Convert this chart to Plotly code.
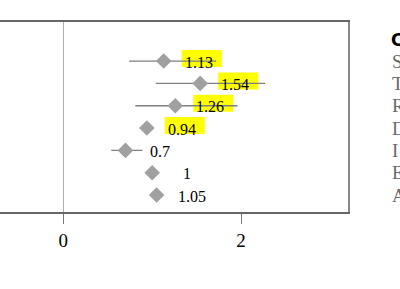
import plotly.graph_objects as go

labels = ["S", "T", "R", "D", "I", "E", "A"]
header = "C"
estimates = [1.13, 1.54, 1.26, 0.94, 0.70, 1.00, 1.05]
ci_low = [0.74, 1.04, 0.81, 0.94, 0.54, 1.00, 1.05]
ci_high = [1.72, 2.27, 1.96, 0.94, 0.89, 1.00, 1.05]
highlight = [True, True, True, True, False, False, False]
value_text = ["1.13", "1.54", "1.26", "0.94", "0.7", "1", "1.05"]

rows = list(range(1, len(labels) + 1))
err_plus = [h - e for h, e in zip(ci_high, estimates)]
err_minus = [e - l for e, l in zip(estimates, ci_low)]

fig = go.Figure()
fig.add_trace(go.Scatter(
    x=estimates, y=rows, mode="markers",
    marker=dict(symbol="diamond", size=12, color="#a0a0a0", line=dict(width=0)),
    error_x=dict(type="data", array=err_plus, arrayminus=err_minus,
                 color="#7f7f7f", thickness=1.3, width=0),
    showlegend=False, hoverinfo="skip",
))

shapes = []
annotations = []
for v, r, t, h in zip(estimates, rows, value_text, highlight):
    if h:
        w = 7.5 * len(t) + 8
        shapes.append(dict(type="rect", layer="below", xref="x", yref="y",
                           xsizemode="pixel", ysizemode="pixel",
                           xanchor=v, yanchor=r,
                           x0=35 - w / 2 + 2, x1=35 + w / 2 + 4,
                           y0=-6, y1=11,
                           fillcolor="#ffff00", line=dict(width=0)))
    annotations.append(dict(x=v, y=r, xref="x", yref="y", text=t, showarrow=False,
                            xshift=35, yshift=-1,
                            font=dict(family="Liberation Serif", size=16, color="#000")))

for lab, r in zip(labels, rows):
    annotations.append(dict(x=1, y=r, xref="paper", yref="y", text=lab, showarrow=False,
                            xanchor="left", xshift=42,
                            font=dict(family="Liberation Serif", size=19, color="#6a6a6a")))
annotations.append(dict(x=1, y=0, xref="paper", yref="y", text="<b>" + header + "</b>",
                        showarrow=False, xanchor="left", xshift=41, yshift=-1,
                        font=dict(family="DejaVu Sans", size=17, color="#000")))

fig.update_layout(
    width=400, height=289,
    margin=dict(l=0, r=52, t=22, b=77),
    paper_bgcolor="white", plot_bgcolor="white",
    shapes=shapes, annotations=annotations,
    xaxis=dict(range=[-0.711, 3.202], dtick=2, tick0=0, showgrid=False,
               zeroline=True, zerolinecolor="#b0b0b0", zerolinewidth=1,
               showline=True, linecolor="#666", linewidth=1.5, mirror=True,
               ticks="outside", ticklen=10, tickcolor="#777", tickwidth=1,
               tickfont=dict(family="Liberation Serif", size=19, color="#000")),
    yaxis=dict(range=[7.76, -0.75], side="right", showgrid=False, zeroline=False,
               showline=True, linecolor="#888", linewidth=1.5, mirror=False,
               showticklabels=False, ticks=""),
)

fig.write_html("out.html")
